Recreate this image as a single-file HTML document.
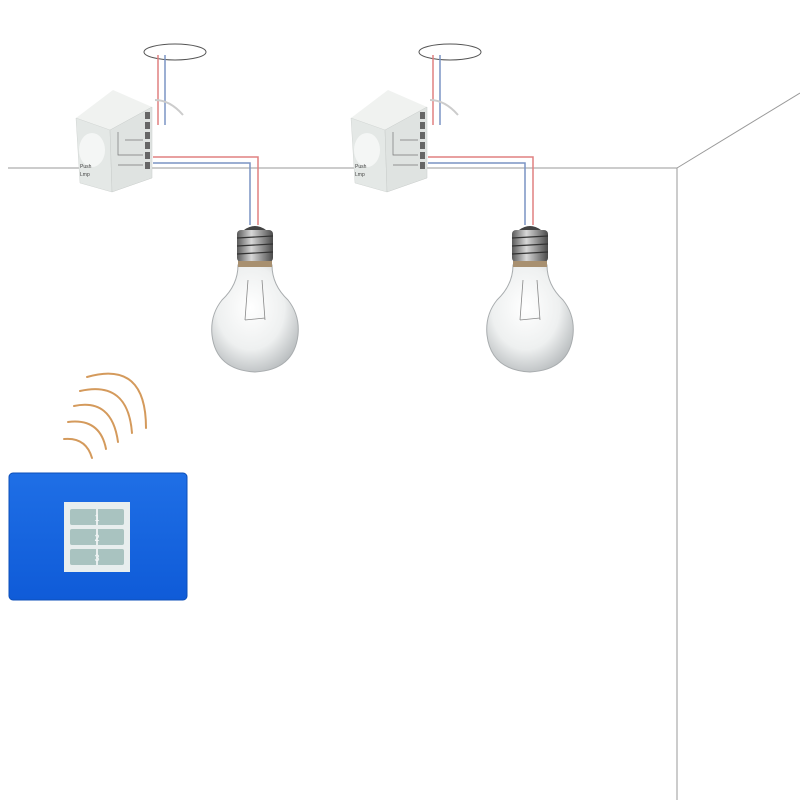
<!DOCTYPE html>
<html><head><meta charset="utf-8"><style>
html,body{margin:0;padding:0;background:#fff;}
svg{display:block;}
</style></head><body>
<svg width="800" height="800" viewBox="0 0 800 800" xmlns="http://www.w3.org/2000/svg">
<defs>
<radialGradient id="glass" cx="0.45" cy="0.4" r="0.65">
<stop offset="0" stop-color="#ffffff"/>
<stop offset="0.6" stop-color="#eef0f0"/>
<stop offset="1" stop-color="#b8bcbe"/>
</radialGradient>
<linearGradient id="screw" x1="0" x2="1">
<stop offset="0" stop-color="#5a5a5a"/><stop offset="0.4" stop-color="#d8d8d8"/><stop offset="1" stop-color="#4a4a4a"/>
</linearGradient>
<linearGradient id="blue" x1="0" y1="0" x2="0" y2="1">
<stop offset="0" stop-color="#1f6fe6"/><stop offset="1" stop-color="#0f5bd8"/>
</linearGradient>
<g id="unit">
<ellipse cx="175" cy="52" rx="31" ry="8" fill="none" stroke="#555" stroke-width="1"/>
<line x1="158" y1="55" x2="158" y2="125" stroke="#e08080" stroke-width="1.5"/>
<line x1="165" y1="55" x2="165" y2="125" stroke="#7a94c4" stroke-width="1.5"/>
<path d="M155 100 Q170 100 183 115" fill="none" stroke="#ccc" stroke-width="2"/>
<polygon points="76,118 113,90 152,107 110,130" fill="#f0f2f0"/>
<polygon points="76,118 110,130 112,192 80,183" fill="#e4e8e6" stroke="#d0d4d2" stroke-width="0.5"/>
<polygon points="110,130 152,107 152,178 112,192" fill="#dfe3e1" stroke="#c8ccca" stroke-width="0.5"/>
<ellipse cx="92" cy="150" rx="13" ry="17" fill="#f4f6f5"/>
<text x="80" y="168" font-family="Liberation Sans, sans-serif" font-size="5" fill="#444">Push</text>
<text x="80" y="176" font-family="Liberation Sans, sans-serif" font-size="5" fill="#444">Lmp</text>
<g fill="#666">
<rect x="145" y="112" width="5" height="7"/><rect x="145" y="122" width="5" height="7"/><rect x="145" y="132" width="5" height="7"/><rect x="145" y="142" width="5" height="7"/><rect x="145" y="152" width="5" height="7"/><rect x="145" y="162" width="5" height="7"/>
</g>
<path d="M118 132 V155 H143 M125 140 H143 M118 165 H143" fill="none" stroke="#777" stroke-width="0.7"/>
<path d="M153 157 H258 V225" fill="none" stroke="#e08080" stroke-width="1.5"/>
<path d="M153 163 H250 V225" fill="none" stroke="#7a94c4" stroke-width="1.5"/>
<!-- bulb -->
<path d="M238 265 Q238 285 222 300 Q210 315 212 335 Q216 370 255 372 Q294 370 298 335 Q300 315 288 300 Q272 285 272 265 Z" fill="url(#glass)" stroke="#a8acae" stroke-width="1"/>
<path d="M248 280 L245 320 M262 280 L265 320 M245 320 L265 318" stroke="#888" stroke-width="0.8" fill="none"/>
<rect x="237" y="230" width="36" height="32" rx="4" fill="url(#screw)"/>
<g stroke="#333" stroke-width="1.2"><line x1="237" y1="238" x2="273" y2="236"/><line x1="237" y1="246" x2="273" y2="244"/><line x1="237" y1="254" x2="273" y2="252"/></g>
<path d="M244 230 Q255 222 266 230 Z" fill="#444"/>
<rect x="238" y="261" width="34" height="6" fill="#a89070"/>
</g>
</defs>
<line x1="8" y1="168" x2="677" y2="168" stroke="#999" stroke-width="1"/>
<line x1="677" y1="168" x2="800" y2="93" stroke="#999" stroke-width="1"/>
<line x1="677" y1="168" x2="677" y2="800" stroke="#999" stroke-width="1"/>
<use href="#unit"/>
<use href="#unit" transform="translate(275,0)"/>
<g fill="none" stroke="#d49a5c" stroke-width="2" stroke-linecap="round">
<path d="M64 439 Q86 437 92 458"/>
<path d="M68 422 Q100 418 106 449"/>
<path d="M74 406 Q112 398 118 442"/>
<path d="M80 391 Q128 380 132 433"/>
<path d="M87 377 Q146 360 146 428"/>
</g>
<rect x="9" y="473" width="178" height="127" rx="4" fill="url(#blue)" stroke="#0d4fb8" stroke-width="1"/>
<rect x="64" y="502" width="66" height="70" fill="#e8eeee"/>
<g fill="#a9c3c0">
<rect x="70" y="509" width="54" height="16" rx="2"/>
<rect x="70" y="529" width="54" height="16" rx="2"/>
<rect x="70" y="549" width="54" height="16" rx="2"/>
</g>
<line x1="97" y1="502" x2="97" y2="572" stroke="#e8eeee" stroke-width="2"/>
<g font-family="Liberation Sans, sans-serif" font-size="9" fill="#f4f8f8" text-anchor="middle">
<text x="97" y="521">1</text><text x="97" y="541">2</text><text x="97" y="561">3</text>
</g>
</svg>
</body></html>
